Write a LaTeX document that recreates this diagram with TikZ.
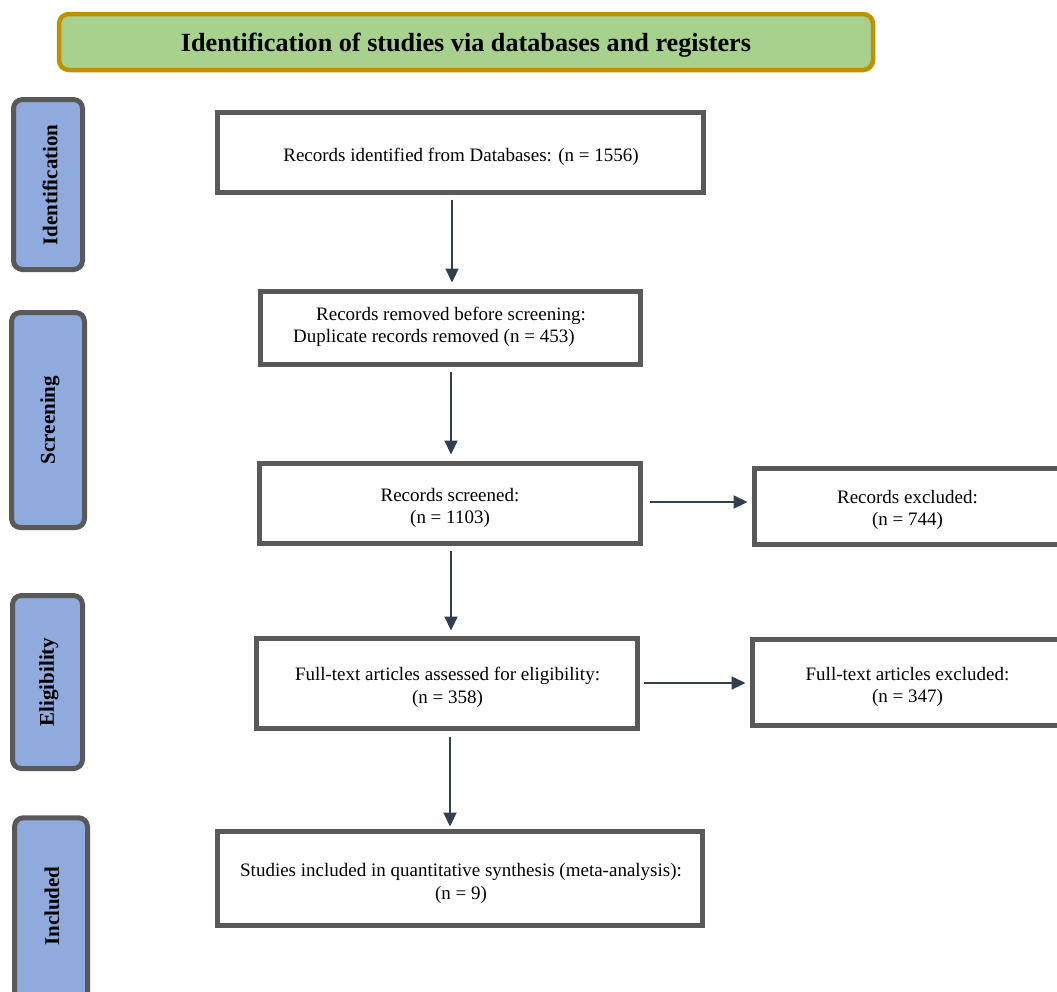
\documentclass[tikz,border=0pt]{standalone}
\usepackage{fontspec}
\setmainfont{Liberation Serif}
\usetikzlibrary{arrows.meta}
\definecolor{boxgray}{HTML}{595959}
\definecolor{hdrfill}{HTML}{A9D18E}
\definecolor{hdrgold}{HTML}{BF9000}
\definecolor{sidefill}{HTML}{8FAADC}
\definecolor{arrowc}{HTML}{323F4F}
\begin{document}
\begin{tikzpicture}[x=1pt,y=-1pt,
  mainbox/.style={draw=boxgray,line width=5pt,fill=white,inner sep=0},
  sidebox/.style={draw=boxgray,line width=5pt,fill=sidefill,rounded corners=9pt,inner sep=0},
  txt/.style={font=\fontsize{19}{22.5}\selectfont,inner sep=0,align=center},
  sidetxt/.style={font=\bfseries\fontsize{21}{24}\selectfont,rotate=90,inner sep=0},
  arr/.style={draw=arrowc,line width=2.2pt,-{Triangle[length=14pt,width=13pt]}}]
\useasboundingbox (0,0) rectangle (1057,991);
\clip (0,0) rectangle (1057,991);
% header
\node[draw=hdrgold,line width=4.5pt,fill=hdrfill,rounded corners=10pt,minimum width=814pt,minimum height=56pt,inner sep=0] (hdr) at (466,42) {};
\node[font=\bfseries\fontsize{26.2}{29}\selectfont,inner sep=0] (hdrt) at (466,45) {Identification of studies via databases and registers};
% side boxes
\node[sidebox,minimum width=69pt,minimum height=170pt] (s1) at (48,184.5) {};
\node[sidebox,minimum width=73pt,minimum height=215pt] (s2) at (48,420) {};
\node[sidebox,minimum width=70pt,minimum height=173pt] (s3) at (47.5,682) {};
\node[sidebox,minimum width=73pt,minimum height=192pt] (s4) at (51,913.75) {};
\node[sidetxt] (s1t) at (50,185) {Identification};
\node[sidetxt] (s2t) at (50,420) {Screening};
\node[sidetxt] (s3t) at (49,682) {Eligibility};
\node[sidetxt] (s4t) at (52,906) {Included};
% main boxes
\node[mainbox,minimum width=486pt,minimum height=80pt] (b1) at (460.5,152.5) {};
\node[mainbox,minimum width=380pt,minimum height=73pt] (b2) at (450.5,328) {};
\node[mainbox,minimum width=381pt,minimum height=80pt] (b3) at (450,503.5) {};
\node[mainbox,minimum width=381pt,minimum height=90pt] (b4) at (447,683.5) {};
\node[mainbox,minimum width=485pt,minimum height=94pt] (b5) at (460,878.5) {};
\node[mainbox,minimum width=315.5pt,minimum height=76pt] (r1) at (912.25,506.5) {};
\node[mainbox,minimum width=317.5pt,minimum height=86pt] (r2) at (911.25,682.5) {};
% texts
\node[txt] (b1t) at (461,156.5) {Records identified from Databases: (n = 1556)};
\node[txt,anchor=west] (b2ta) at (316,315.5) {Records removed before screening:};
\node[txt,anchor=west] (b2tb) at (293,337.5) {Duplicate records removed (n = 453)};
\node[txt] (b3t) at (450,508) {Records screened:\\(n = 1103)};
\node[txt] (r1t) at (907.5,510) {Records excluded:\\(n = 744)};
\node[txt] (b4t) at (447.5,687.5) {Full-text articles assessed for eligibility:\\(n = 358)};
\node[txt] (r2t) at (907.5,687) {Full-text articles excluded:\\(n = 347)};
\node[txt] (b5t) at (461,883.5) {Studies included in quantitative synthesis (meta-analysis):\\(n = 9)};
% arrows
\draw[arr,shorten <=4.5pt,shorten >=6.5pt] (b1.south -| 452,0) -- (b2.north -| 452,0);
\draw[arr,shorten <=4.5pt,shorten >=6.5pt] (b2.south -| 451,0) -- (b3.north -| 451,0);
\draw[arr,shorten <=4.5pt,shorten >=5.5pt] (b3.south -| 451,0) -- (b4.north -| 451,0);
\draw[arr,shorten <=5.5pt,shorten >=2.5pt] (b4.south -| 450,0) -- (b5.north -| 450,0);
\draw[arr,shorten <=6.5pt,shorten >=4.5pt] (b3.east |- 0,502) -- (r1.west |- 0,502);
\draw[arr,shorten <=3.5pt,shorten >=4.5pt] (b4.east |- 0,683) -- (r2.west |- 0,683);
\end{tikzpicture}
\end{document}
